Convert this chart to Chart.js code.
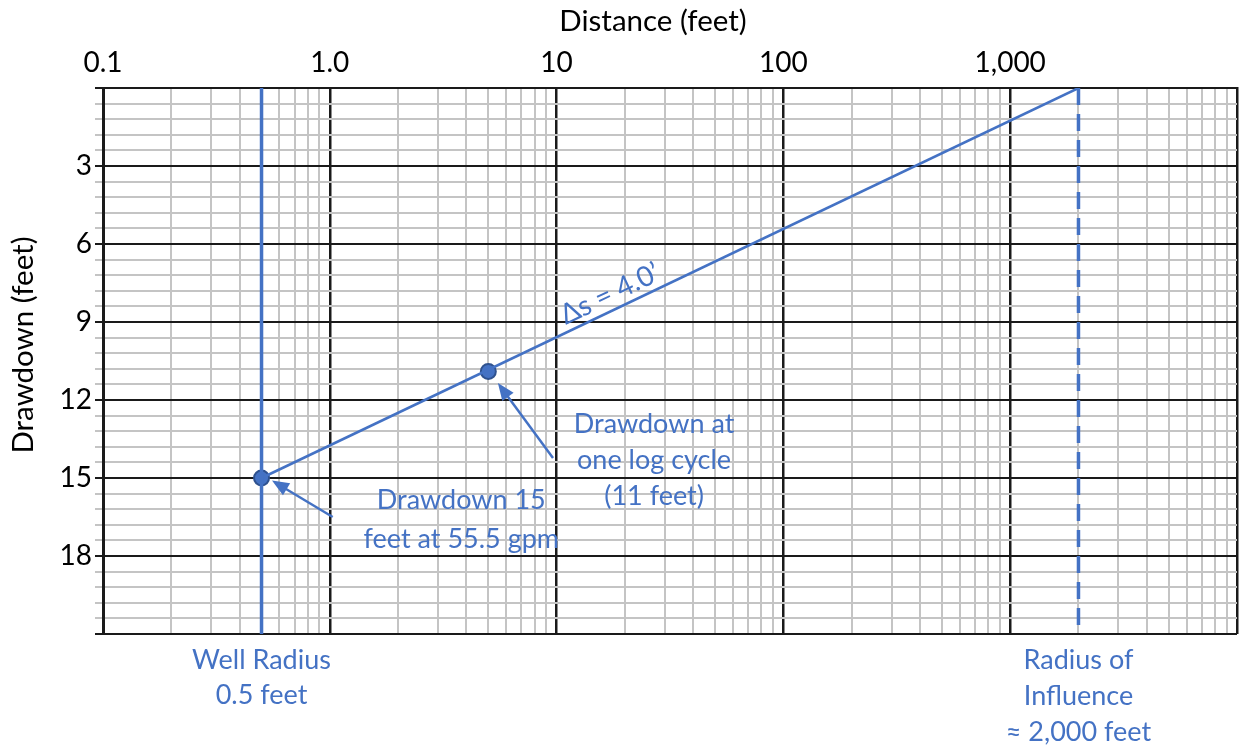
<!DOCTYPE html>
<html>
<head>
<meta charset="utf-8">
<script src="https://cdn.jsdelivr.net/npm/chart.js@4.4.1/dist/chart.umd.min.js"></script>
<style>
html,body{margin:0;padding:0;background:#fff;}
#wrap{width:1241px;height:748px;}
</style>
</head>
<body>
<div id="wrap"><canvas id="grafico"></canvas></div>
<script>
// Eixos
const distMin = 0.1, distMax = 10000;
const drawMin = 0, drawMax = 21;
const xLabelValues = [0.1, 1, 10, 100, 1000];
const xLabelTexts = ['0.1', '1.0', '10', '100', '1,000'];
const yLabelValues = [3, 6, 9, 12, 15, 18];
const xTitle = 'Distance (feet)';
const yTitle = 'Drawdown (feet)';

// Reta de rebaixamento (distância x rebaixamento)
const lineDist = [0.5, 2000];
const lineDraw = [15, 0];
// Pontos marcados
const pointDist = [0.5, 5];
const pointDraw = [15, 10.9];
// Raio do poço e raio de influência
const wellRadius = 0.5;
const influenceRadius = 2000;

const azul = '#4472C4';
const fonte = 'Lato';

// linhas de grade: 1..9 por década no x, a cada 0.6 no y
const xGridTicks = [];
[0.1, 1, 10, 100, 1000].forEach(d => {
  for (let i = 1; i <= 9; i++) xGridTicks.push(Math.round(d * i * 10) / 10);
});
xGridTicks.push(10000);
const yGridTicks = [];
for (let i = 0; i <= 35; i++) yGridTicks.push(Math.round(i * 6) / 10);

const isDecade = v => Math.abs(Math.log10(v) - Math.round(Math.log10(v))) < 1e-9;
const isMult3 = v => Math.abs(v / 3 - Math.round(v / 3)) < 1e-9;

// Títulos dos eixos, textos e setas
const notas = {
  id: 'notas',
  afterDatasetsDraw(chart) {
    const {ctx, scales: {x, y}, chartArea} = chart;
    ctx.save();
    ctx.textAlign = 'center';
    ctx.textBaseline = 'middle';

    // títulos
    ctx.fillStyle = '#000';
    ctx.font = '29.5px ' + fonte;
    ctx.fillText(xTitle, 653, 21);
    ctx.save();
    ctx.translate(23, 345);
    ctx.rotate(-Math.PI / 2);
    ctx.fillText(yTitle, 0, 0);
    ctx.restore();

    ctx.fillStyle = azul;
    ctx.strokeStyle = azul;
    ctx.font = '27px ' + fonte;

    const linhas = (txts, px, py, dy) => txts.forEach((t, i) => ctx.fillText(t, px, py + i * dy));
    const seta = (x1, y1, x2, y2) => {
      const a = Math.atan2(y2 - y1, x2 - x1);
      ctx.lineWidth = 2.5;
      ctx.beginPath();
      ctx.moveTo(x1, y1);
      ctx.lineTo(x2 - 12 * Math.cos(a), y2 - 12 * Math.sin(a));
      ctx.stroke();
      ctx.beginPath();
      ctx.moveTo(x2, y2);
      ctx.lineTo(x2 - 17 * Math.cos(a) + 7 * Math.sin(a), y2 - 17 * Math.sin(a) - 7 * Math.cos(a));
      ctx.lineTo(x2 - 17 * Math.cos(a) - 7 * Math.sin(a), y2 - 17 * Math.sin(a) + 7 * Math.cos(a));
      ctx.closePath();
      ctx.fill();
    };

    linhas(['Drawdown 15', 'feet at 55.5 gpm'], x.getPixelForValue(3.8), y.getPixelForValue(15.85), 39);
    linhas(['Drawdown at', 'one log cycle', '(11 feet)'], x.getPixelForValue(26.9), y.getPixelForValue(12.92), 36);
    seta(x.getPixelForValue(1.03), y.getPixelForValue(16.5), x.getPixelForValue(0.556), y.getPixelForValue(15.1));
    seta(x.getPixelForValue(9.64), y.getPixelForValue(14.23), x.getPixelForValue(5.51), y.getPixelForValue(11.35));

    linhas(['Well Radius', '0.5 feet'], x.getPixelForValue(wellRadius), chartArea.bottom + 26, 35);
    linhas(['Radius of', 'Influence', '≈ 2,000 feet'], x.getPixelForValue(influenceRadius), chartArea.bottom + 26, 36);

    // Δs ao longo da reta
    const ang = Math.atan2(y.getPixelForValue(lineDraw[1]) - y.getPixelForValue(lineDraw[0]),
                           x.getPixelForValue(lineDist[1]) - x.getPixelForValue(lineDist[0]));
    ctx.font = '28px ' + fonte;
    ctx.translate(x.getPixelForValue(17.2), y.getPixelForValue(7.92));
    ctx.rotate(ang);
    ctx.fillText('Δs = 4.0’', 0, 0);
    ctx.restore();
  }
};

const ctxGrafico = document.getElementById('grafico').getContext('2d');
new Chart(ctxGrafico, {
  type: 'scatter',
  data: {
    datasets: [
      {
        label: 'Well Radius',
        data: [{x: wellRadius, y: drawMin}, {x: wellRadius, y: drawMax}],
        showLine: true, borderColor: azul, borderWidth: 3.5, pointRadius: 0
      },
      {
        label: 'Radius of Influence',
        data: [{x: influenceRadius, y: drawMin}, {x: influenceRadius, y: drawMax}],
        showLine: true, borderColor: azul, borderWidth: 3.5, borderDash: [17, 9], pointRadius: 0
      },
      {
        label: 'Drawdown',
        data: lineDist.map((d, i) => ({x: d, y: lineDraw[i]})),
        showLine: true, borderColor: azul, borderWidth: 2.5, pointRadius: 0
      },
      {
        label: 'Pontos',
        data: pointDist.map((d, i) => ({x: d, y: pointDraw[i]})),
        pointRadius: 7.5, pointBackgroundColor: azul, pointBorderColor: '#2F528F', pointBorderWidth: 2
      }
    ]
  },
  options: {
    responsive: true,
    maintainAspectRatio: false,
    animation: false,
    layout: {autoPadding: false, padding: {left: 0, right: 4, top: 0, bottom: 114}},
    plugins: {legend: {display: false}, tooltip: {enabled: false}},
    scales: {
      x: {
        type: 'logarithmic',
        position: 'top',
        min: distMin,
        max: distMax,
        afterBuildTicks: s => { s.ticks = xGridTicks.map(v => ({value: v, major: isDecade(v)})); },
        afterFit: s => { s.height = 88; s.paddingLeft = 0; s.paddingRight = 0; },
        ticks: {
          autoSkip: false, maxRotation: 0, minRotation: 0, padding: 8,
          color: '#000', font: {family: fonte, size: 28},
          callback: v => {
            const i = xLabelValues.findIndex(t => Math.abs(t - v) / t < 1e-6);
            return i >= 0 ? xLabelTexts[i] : '';
          }
        },
        grid: {
          drawTicks: false,
          color: c => isDecade(c.tick.value) ? '#1a1a1a' : '#c4c4c4',
          lineWidth: c => isDecade(c.tick.value) ? 2.5 : 2
        },
        border: {color: '#1a1a1a', width: 2},
        title: {display: false}
      },
      y: {
        reverse: true,
        min: drawMin,
        max: drawMax,
        afterBuildTicks: s => { s.ticks = yGridTicks.map(v => ({value: v})); },
        afterFit: s => { s.width = 103; s.paddingTop = 0; s.paddingBottom = 0; },
        ticks: {
          autoSkip: false, padding: 3,
          color: '#000', font: {family: fonte, size: 28},
          callback: v => yLabelValues.includes(v) ? String(v) : ''
        },
        grid: {
          tickLength: 8,
          color: c => isMult3(c.tick.value) ? '#1a1a1a' : '#c4c4c4',
          lineWidth: 2
        },
        border: {color: '#1a1a1a', width: 3},
        title: {display: false}
      }
    }
  },
  plugins: [notas]
});
</script>
</body>
</html>
